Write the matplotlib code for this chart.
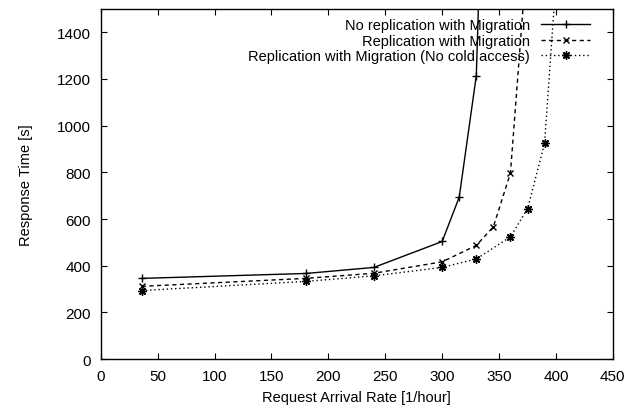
import numpy as np
import matplotlib.pyplot as plt

plt.rcParams['font.family'] = ['Liberation Sans Narrow', 'Liberation Sans', 'DejaVu Sans']
plt.rcParams['font.size'] = 10.5

# data
rate_norep = [36, 180, 240, 300, 315, 330, 345]
resp_norep = [346, 367, 393, 504, 694, 1214, 3600]

rate_rep = [36, 180, 240, 300, 330, 345, 360, 375]
resp_rep = [312, 346, 368, 417, 487, 567, 797, 1757]

rate_nocold = [36, 180, 240, 300, 330, 360, 375, 390, 405]
resp_nocold = [294, 333, 357, 393, 429, 524, 644, 924, 1974]

labels = ["No replication with Migration",
          "Replication with Migration",
          "Replication with Migration (No cold access)"]

fig = plt.figure(figsize=(6.26, 4.14), dpi=100)
ax = fig.add_axes([0.161, 0.130, 0.818, 0.846])

ax.plot(rate_norep, resp_norep, color='black', lw=1.0, ls='-',
        marker='+', ms=6, mew=1.0, label=labels[0])
ax.plot(rate_rep, resp_rep, color='black', lw=1.0, ls=(0, (3, 2.5)),
        marker='x', ms=5, mew=1.0, label=labels[1])
ax.plot(rate_nocold, resp_nocold, color='black', lw=1.0, ls=(0, (1, 2)),
        marker=(8, 2, 0), ms=6, mew=1.0, label=labels[2])

ax.set_xlim(0, 450)
ax.set_ylim(0, 1500)
ax.set_xticks(np.arange(0, 451, 50))
ax.set_yticks(np.arange(0, 1401, 200))
ax.tick_params(direction='in', top=True, right=True, length=4, width=0.8,
               pad=7, labelsize=11)
for s in ax.spines.values():
    s.set_linewidth(1.0)

ax.set_xlabel("Request Arrival Rate [1/hour]", labelpad=5)
ax.set_ylabel("Response Time [s]", labelpad=17)

leg = ax.legend(loc='upper right', bbox_to_anchor=(0.966, 0.99), frameon=False,
                markerfirst=False, handlelength=3.3, handletextpad=0.8,
                labelspacing=0.1, borderaxespad=0.0)

fig.savefig("out.png", dpi=100)
